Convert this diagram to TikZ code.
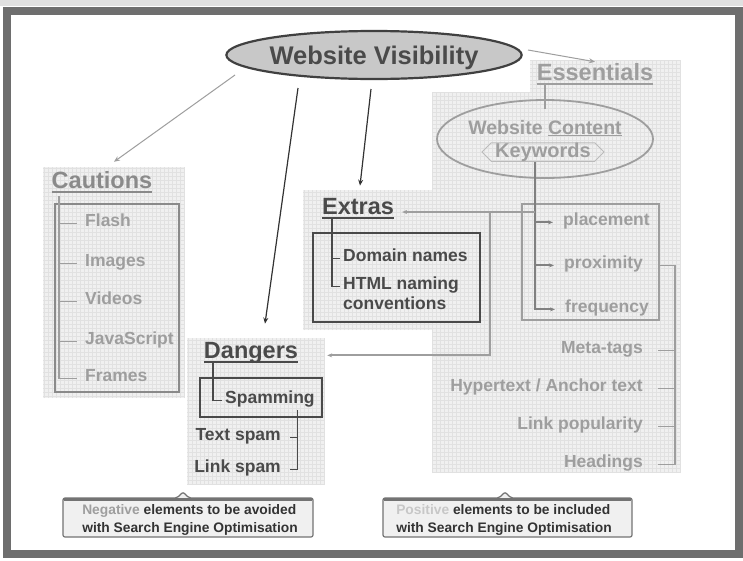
\documentclass[tikz,border=0pt]{standalone}
\usepackage{fontspec}
\setmainfont{Liberation Sans}
\usetikzlibrary{arrows.meta,shapes.geometric,shapes.symbols}

\definecolor{framegray}{HTML}{6E6E6E}
\definecolor{panelfill}{HTML}{F0F0F0}
\definecolor{gridgray}{HTML}{E1E1E1}
\definecolor{darktext}{HTML}{4A4A4A}
\definecolor{midtext}{HTML}{8A8A8A}
\definecolor{lighttext}{HTML}{9E9E9E}
\definecolor{visfill}{HTML}{C8C8C8}

\newcommand{\fsz}[1]{\fontsize{#1}{#1}\selectfont}
% light grid-paper panel behind a group
\newcommand{\gridpanel}[2]{%
  \fill[panelfill] #1 rectangle #2;
  \draw[gridgray, line width=0.3pt, step=4pt] #1 grid #2;}

\tikzset{
  title/.style={font=\fsz{23.5}\bfseries, inner sep=0pt, anchor=base},
  item/.style={font=\fsz{17.5}\bfseries, inner sep=0pt},
  boxframe/.style={draw=#1, line width=2.3pt, inner sep=0pt, fill=none},
  tip/.style={-{Stealth[length=6pt,width=5pt]}},
  smalltip/.style={-{Stealth[length=5pt,width=4pt]}},
  note/.style={font=\fontsize{13.8}{18}\selectfont\bfseries, align=left,
    inner sep=0pt, text=black!80},
}

\begin{document}
\begin{tikzpicture}[x=1pt,y=-1pt]
\useasboundingbox (0,0) rectangle (743,560);
\fill[white] (0,0) rectangle (743,560);
\fill[black!12] (0,0) rectangle (743,6);
\draw[framegray, line width=8pt] (7,11) rectangle (739,554);

% grid panels
\gridpanel{(43,167)}{(185,398)}
\gridpanel{(187,338)}{(325,485)}
\gridpanel{(303,190)}{(433,330)}
\gridpanel{(530,60)}{(680,92)}
\gridpanel{(432,92)}{(680,473)}

% central topic
\node[ellipse, draw=black!75, line width=2.2pt, fill=visfill,
  minimum width=278pt, minimum height=48pt, inner sep=0pt, text depth=0pt,
  text=darktext, font=\fsz{25.5}\bfseries] (vis) at (374,55) {Website Visibility};

% group titles
\node[title, text=midtext] (caut) at (102,188) {Cautions};
\node[title, text=darktext] (dang) at (251,358) {Dangers};
\node[title, text=darktext] (extras) at (358,214) {Extras};
\node[title, text=lighttext] (ess) at (595,80) {Essentials};
\foreach \t/\c in {caut/midtext, dang/darktext, extras/darktext, ess/lighttext}
  \draw[\c, line width=2pt] ([yshift=-4pt]\t.base west) -- ([yshift=-4pt]\t.base east);

% arrows from the central topic
\draw[lighttext, line width=1pt, tip] ([shift={(-139,20)}]vis.center) -- ([shift={(12,-9)}]caut.north);
\draw[black!80, line width=1.2pt, tip] ([shift={(-76,33)}]vis.center) -- ([shift={(14,-18)}]dang.north);
\draw[black!80, line width=1.2pt, tip] ([shift={(-3,34)}]vis.center) -- ([shift={(2,-12)}]extras.north);
\draw[lighttext, line width=1pt, tip] ([shift={(154,-5)}]vis.center) -- ([shift={(0,-1)}]ess.north);

% Cautions
\node[boxframe=midtext, minimum width=124pt, minimum height=188pt] (cautbox) at (117,298) {};
\foreach \n/\t/\y in {flash/Flash/226, images/Images/266, videos/Videos/304,
                      js/JavaScript/344, frames/Frames/381}
  \node[item, anchor=base west, text=lighttext] (\n) at (85,\y) {\t};
\draw[lighttext, line width=1.2pt] (59,196) |- ([xshift=-8pt]frames.mid west);
\foreach \n in {flash,images,videos,js}
  \draw[lighttext, line width=1.2pt] (59,0 |- \n.mid west) -- ([xshift=-8pt]\n.mid west);

% Extras
\node[boxframe=darktext, line width=2.6pt, minimum width=167pt, minimum height=89pt] (extrabox) at (396.5,277.5) {};
\node[item, anchor=base west, text=darktext] (domain) at (343,261) {Domain names};
\node[item, anchor=base west, text=darktext] (html) at (343,289) {HTML naming};
\node[item, anchor=base west, text=darktext] (conv) at (343,309) {conventions};
\draw[darktext, line width=1.2pt] (332,219) |- ([xshift=-3pt]html.mid west);
\draw[darktext, line width=1.2pt] (332,0 |- domain.mid west) -- ([xshift=-3pt]domain.mid west);

% Dangers
\node[boxframe=darktext, line width=2.6pt, minimum width=122pt, minimum height=39pt] (spambox) at (261,397.5) {};
\node[item, anchor=base west, text=darktext] (spam) at (225,403) {Spamming};
\node[item, anchor=base east, text=darktext] (textspam) at (281,440) {Text spam};
\node[item, anchor=base east, text=darktext] (linkspam) at (281,472) {Link spam};
\draw[darktext, line width=1.2pt] (213,363) |- ([xshift=-3pt]spam.mid west);
\draw[darktext, line width=1pt] (297,410) |- ([xshift=9pt]linkspam.mid east);
\draw[darktext, line width=1pt] ([xshift=9pt]textspam.mid east) -- (297,0 |- textspam.mid east);

% Essentials
\node[ellipse, draw=lighttext, line width=1.8pt, minimum width=216pt, minimum height=78pt,
  inner sep=0pt] (content) at (545,139) {};
\node[font=\fsz{19.5}\bfseries, text=lighttext, inner sep=0pt, anchor=base] (wc) at (545,134)
  {Website \underline{Content}};
\node[signal, signal to=west and east, draw=lighttext!70, line width=1pt,
  minimum width=122pt, inner sep=0pt, text height=14.5pt, text depth=4pt,
  font=\fsz{20}\bfseries, text=lighttext] (kwd) at (543,152) {Keywords};
\draw[lighttext, line width=1.2pt] ([yshift=16pt]content.north) -- ([yshift=-10pt]content.north);

\node[boxframe=lighttext, minimum width=137pt, minimum height=116pt] (placebox) at (590.5,262) {};
\node[item, anchor=base west, text=lighttext] (placement) at (563,225) {placement};
\node[item, anchor=base west, text=lighttext] (proximity) at (564,268) {proximity};
\node[item, anchor=base west, text=lighttext] (frequency) at (565,312) {frequency};

\coordinate (kw) at (535,0 |- kwd.south);
\draw[black!50, line width=1.8pt, smalltip] (kw) |- ([xshift=-10pt]frequency.mid west);
\foreach \n in {placement, proximity}
  \draw[black!50, line width=1.8pt, smalltip] (kw |- \n.mid west) -- ([xshift=-10pt]\n.mid west);

% links from the keyword tree to Extras and Dangers
\coordinate (j1) at (535,212);
\coordinate (j2) at (490,212);
\draw[lighttext, line width=1.8pt, smalltip] (j1) -- ([xshift=8pt]extras.east |- j1);
\draw[lighttext, line width=1.8pt, smalltip] (j2) |- ([xshift=29pt]dang.mid east);

% further essentials
\node[item, anchor=base east, text=lighttext] (meta) at (643,353) {Meta-tags};
\node[item, anchor=base east, text=lighttext] (hyper) at (643,391) {Hypertext / Anchor text};
\node[item, anchor=base east, text=lighttext] (linkpop) at (643,429) {Link popularity};
\node[item, anchor=base east, text=lighttext] (headings) at (643,467) {Headings};
\draw[lighttext, line width=1.2pt] (placebox.east |- proximity.mid east)
  -| ([xshift=32pt]headings.mid east) -- ([xshift=15pt]headings.mid east);
\foreach \n in {meta,hyper,linkpop}
  \draw[lighttext, line width=1.2pt] ([xshift=15pt]\n.mid east) -- ([xshift=32pt]\n.mid east);

% legend callouts
\draw[black!55, line width=1.2pt, fill=panelfill, rounded corners=2pt]
  (63,537) -- (63,498) -- (177,498) -- (183,492) -- (189,498) -- (313,498) -- (313,537) -- cycle;
\draw[black!55, line width=3pt] (64,499.5) -- (312,499.5);
\node[note] (negnote) at (190,520)
  {\textcolor{lighttext}{Negative} elements to be avoided\\with Search Engine Optimisation};

\draw[black!55, line width=1.2pt, fill=panelfill, rounded corners=2pt]
  (383,537) -- (383,498) -- (499,498) -- (505,492) -- (511,498) -- (632,498) -- (632,537) -- cycle;
\draw[black!55, line width=3pt] (384,499.5) -- (631,499.5);
\node[note] (posnote) at (504,520)
  {\textcolor{black!22}{Positive} elements to be included\\with Search Engine Optimisation};
\end{tikzpicture}
\end{document}
